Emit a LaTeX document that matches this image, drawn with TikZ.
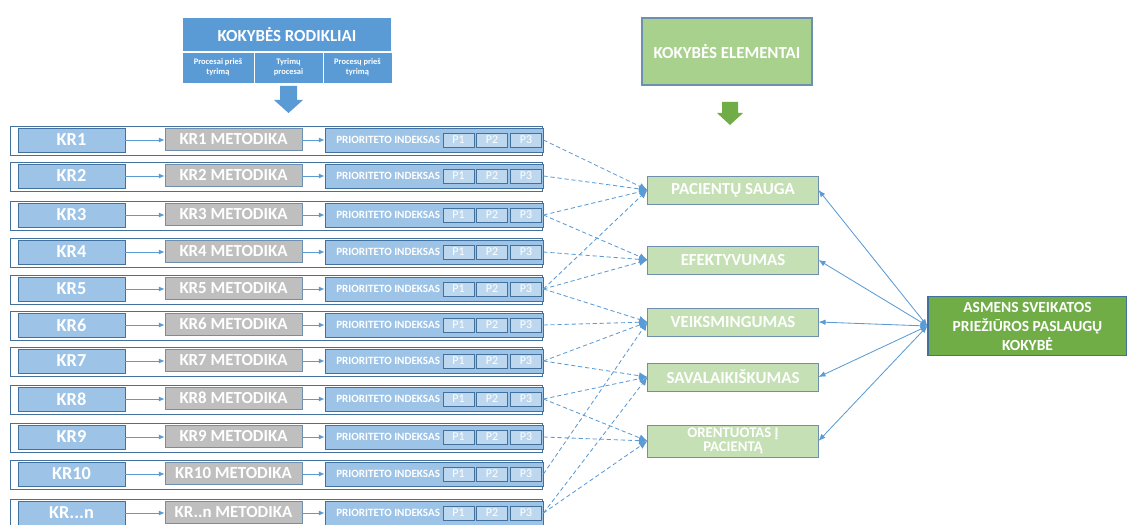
\documentclass[tikz,border=0pt]{standalone}
\usepackage{fontspec}
\setmainfont{Carlito}
\usetikzlibrary{arrows.meta}

\definecolor{hdrF}{HTML}{5B9BD5}
\definecolor{krF}{HTML}{9DC3E6}
\definecolor{krE}{HTML}{41719C}
\definecolor{metF}{HTML}{BFBFBF}
\definecolor{metE}{HTML}{6F8FAF}
\definecolor{pF}{HTML}{BDD7EE}
\definecolor{elF}{HTML}{C5E0B4}
\definecolor{elhF}{HTML}{A9D18E}
\definecolor{elE}{HTML}{6F8FAF}
\definecolor{asmF}{HTML}{70AD47}
\definecolor{arrG}{HTML}{70AD47}
\definecolor{linkC}{HTML}{5B9BD5}

\begin{document}
\begin{tikzpicture}[x=0.025cm, y=-0.025cm,
  hdr/.style={draw=white, fill=hdrF, line width=0.8pt, minimum width=5.25cm,
              minimum height=0.875cm, inner sep=0pt, text=white,
              font=\fontsize{12}{13}\selectfont\bfseries},
  subhdr/.style={draw=white, fill=hdrF, line width=0.6pt, minimum width=#1,
                 minimum height=0.775cm, inner sep=0pt, align=center, text=white,
                 font=\fontsize{6}{7}\selectfont\bfseries},
  krbox/.style={draw=krE, fill=krF, line width=0.6pt, minimum width=2.675cm,
                minimum height=0.6cm, inner sep=0pt, text=white,
                font=\fontsize{13}{14}\selectfont\bfseries},
  metbox/.style={draw=metE, fill=metF, line width=0.6pt, minimum width=3.425cm,
                 minimum height=0.55cm, inner sep=0pt, text=white,
                 font=\fontsize{12}{13}\selectfont\bfseries},
  pribox/.style={draw=krE, fill=krF, line width=0.6pt, minimum width=5.45cm,
                 minimum height=0.6cm, inner sep=0pt},
  prilbl/.style={inner sep=0pt, text=white, font=\fontsize{7.9}{8.5}\selectfont\bfseries},
  pcell/.style={draw=krE, fill=pF, line width=0.5pt, minimum width=0.78cm,
                minimum height=0.35cm, inner sep=0pt, text=white,
                font=\fontsize{8.5}{9}\selectfont},
  elbox/.style={draw=elE, fill=elF, line width=0.7pt, minimum width=4.25cm,
                minimum height=0.7cm, inner sep=0pt, align=center, text=white,
                font=\fontsize{12}{13}\selectfont\bfseries},
  link/.style={linkC, line width=0.6pt, -{Latex[length=4pt,width=3.5pt]}},
  dlink/.style={linkC, line width=0.6pt, dashed, dash pattern=on 3pt off 2pt,
                -{Latex[length=6pt,width=5pt]}},
  blink/.style={linkC, line width=0.6pt,
                {Latex[length=5pt,width=4pt]}-{Latex[length=5pt,width=4pt]}},
]
\useasboundingbox (0,0) rectangle (1127,525);

% header: quality indicators
\node[hdr] (rod) at (287,34.5) {KOKYBĖS RODIKLIAI};
\node[subhdr=1.8cm] (sub1) at (218,67.5) {Procesai prieš\\tyrimą};
\node[subhdr=1.725cm] (sub2) at (288.5,67.5) {Tyrimų\\procesai};
\node[subhdr=1.725cm] (sub3) at (357.5,67.5) {Procesų prieš\\tyrimą};
\fill[hdrF] (280,86) -- (297,86) -- (297,100) -- (303,100) -- (288.5,113)
  -- (274,100) -- (280,100) -- cycle;

% header: quality elements
\node[draw=elE, fill=elhF, line width=0.8pt, minimum width=4.25cm, minimum height=1.675cm,
      text=white, font=\fontsize{12}{13}\selectfont\bfseries] (elem) at (727,51.5)
  {KOKYBĖS ELEMENTAI};
\fill[arrG] (722,102) -- (738,102) -- (738,113) -- (743,113) -- (730,125)
  -- (717,113) -- (722,113) -- cycle;

% --- indicator rows ---
\foreach \i/\kr/\met/\y in {1/KR1/KR1/140, 2/KR2/KR2/176, 3/KR3/KR3/215, 4/KR4/KR4/252,
    5/KR5/KR5/289, 6/KR6/KR6/325, 7/KR7/KR7/361, 8/KR8/KR8/399, 9/KR9/KR9/437,
    10/KR10/KR10/474, 11/KR{.}{.}{.}n/KR{.}{.}n/513} {
  \draw[krE, line width=0.6pt, fill=white] (10,\y-14) rectangle (542,\y+15);
  \node[krbox] (kr\i) at (71.5,\y) {\kr};
  \node[metbox] (met\i) at (233.5,\y-1) {\met{} METODIKA};
  \node[pribox] (pri\i) at (434,\y) {};
  \node[prilbl, anchor=west] (lbl\i) at (336,\y) {PRIORITETO INDEKSAS};
  \node[pcell] (pa\i) at (458.5,\y) {P1};
  \node[pcell] (pb\i) at (492,\y) {P2};
  \node[pcell] (pc\i) at (526,\y) {P3};
  \draw[link] (kr\i) -- (met\i.west |- kr\i);
  \draw[link] (met\i.east |- kr\i) -- (pri\i);
}

% --- quality elements ---
\node[elbox] (ps) at (733,190) {PACIENTŲ SAUGA};
\node[elbox] (ef) at (733,260) {EFEKTYVUMAS};
\node[elbox] (ve) at (733,322) {VEIKSMINGUMAS};
\node[elbox] (sa) at (733,377) {SAVALAIKIŠKUMAS};
\node[elbox, minimum height=0.8cm, font=\fontsize{10.5}{10}\selectfont\bfseries] (ori)
  at (733,441) {ORENTUOTAS Į\\PACIENTĄ};

\node[draw=krE, fill=asmF, line width=0.8pt, minimum width=4.975cm, minimum height=1.475cm,
      inner sep=0pt, align=center, text=white, font=\fontsize{11}{13.5}\selectfont\bfseries]
  (asm) at (1027.5,326) {ASMENS SVEIKATOS\\PRIEŽIŪROS PASLAUGŲ\\KOKYBĖ};

% indicator -> element links
\foreach \s/\t in {1/ps, 2/ps, 3/ps, 3/ef, 4/ef, 5/ps, 5/ef, 5/ve, 6/ve, 7/ve, 7/sa,
    8/sa, 8/ori, 9/ori, 10/ve, 11/sa, 11/ori}
  \draw[dlink] (pri\s.east) -- (\t.west);

% overall quality <-> elements
\foreach \t in {ps, ef, ve, sa, ori}
  \draw[blink] (asm.west) -- (\t.east);
\end{tikzpicture}
\end{document}
